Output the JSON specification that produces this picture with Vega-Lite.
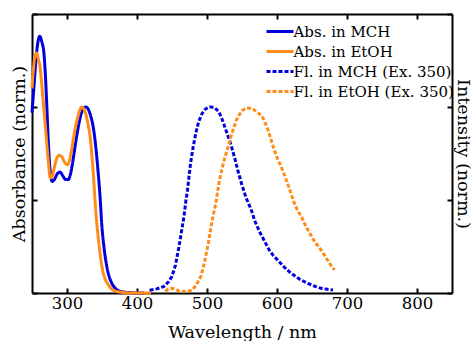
{
  "$schema": "https://vega.github.io/schema/vega-lite/v6.json",
  "width": 420,
  "height": 279,
  "autosize": {"type": "none"},
  "padding": {"left": 32, "top": 14, "right": 21, "bottom": 48},
  "background": "white",
  "config": {
    "font": "DejaVu Serif",
    "view": {"stroke": null},
    "axis": {
      "domainColor": "black", "domainWidth": 2,
      "tickColor": "black", "tickWidth": 2, "tickSize": -5,
      "labelFont": "DejaVu Serif", "labelFontSize": 16.5, "labelColor": "black",
      "titleFont": "DejaVu Serif", "titleFontSize": 17.5, "titleFontWeight": "normal", "titleColor": "black",
      "grid": false
    },
    "legend": {
      "labelFont": "DejaVu Serif"
    }
  },
  "datasets": {
    "abs": [
      {"w": 250, "v": 0.97, "s": "Abs. in MCH"}, {"w": 253, "v": 1.12, "s": "Abs. in MCH"}, {"w": 256, "v": 1.27, "s": "Abs. in MCH"},
      {"w": 259, "v": 1.36, "s": "Abs. in MCH"}, {"w": 261, "v": 1.38, "s": "Abs. in MCH"}, {"w": 264, "v": 1.35, "s": "Abs. in MCH"},
      {"w": 267, "v": 1.29, "s": "Abs. in MCH"}, {"w": 269, "v": 1.18, "s": "Abs. in MCH"}, {"w": 271, "v": 1.02, "s": "Abs. in MCH"},
      {"w": 273, "v": 0.84, "s": "Abs. in MCH"}, {"w": 275, "v": 0.7, "s": "Abs. in MCH"}, {"w": 277, "v": 0.62, "s": "Abs. in MCH"},
      {"w": 279, "v": 0.6, "s": "Abs. in MCH"}, {"w": 282, "v": 0.61, "s": "Abs. in MCH"}, {"w": 286, "v": 0.64, "s": "Abs. in MCH"},
      {"w": 290, "v": 0.65, "s": "Abs. in MCH"}, {"w": 294, "v": 0.63, "s": "Abs. in MCH"}, {"w": 298, "v": 0.61, "s": "Abs. in MCH"},
      {"w": 302, "v": 0.61, "s": "Abs. in MCH"}, {"w": 305, "v": 0.64, "s": "Abs. in MCH"}, {"w": 308, "v": 0.7, "s": "Abs. in MCH"},
      {"w": 312, "v": 0.8, "s": "Abs. in MCH"}, {"w": 316, "v": 0.89, "s": "Abs. in MCH"}, {"w": 320, "v": 0.96, "s": "Abs. in MCH"},
      {"w": 324, "v": 0.995, "s": "Abs. in MCH"}, {"w": 327, "v": 1.0, "s": "Abs. in MCH"}, {"w": 330, "v": 0.99, "s": "Abs. in MCH"},
      {"w": 334, "v": 0.95, "s": "Abs. in MCH"}, {"w": 338, "v": 0.88, "s": "Abs. in MCH"}, {"w": 341, "v": 0.79, "s": "Abs. in MCH"},
      {"w": 344, "v": 0.67, "s": "Abs. in MCH"}, {"w": 347, "v": 0.53, "s": "Abs. in MCH"}, {"w": 350, "v": 0.35, "s": "Abs. in MCH"},
      {"w": 353, "v": 0.24, "s": "Abs. in MCH"}, {"w": 357, "v": 0.14, "s": "Abs. in MCH"}, {"w": 361, "v": 0.08, "s": "Abs. in MCH"},
      {"w": 365, "v": 0.045, "s": "Abs. in MCH"}, {"w": 369, "v": 0.025, "s": "Abs. in MCH"}, {"w": 374, "v": 0.012, "s": "Abs. in MCH"},
      {"w": 381, "v": 0.005, "s": "Abs. in MCH"}, {"w": 390, "v": 0.002, "s": "Abs. in MCH"}, {"w": 400, "v": 0.0, "s": "Abs. in MCH"},
      {"w": 410, "v": 0.0, "s": "Abs. in MCH"},
      {"w": 250, "v": 1.1, "s": "Abs. in EtOH"}, {"w": 252, "v": 1.2, "s": "Abs. in EtOH"}, {"w": 254, "v": 1.27, "s": "Abs. in EtOH"},
      {"w": 256.5, "v": 1.29, "s": "Abs. in EtOH"}, {"w": 259, "v": 1.26, "s": "Abs. in EtOH"}, {"w": 262, "v": 1.2, "s": "Abs. in EtOH"},
      {"w": 264, "v": 1.12, "s": "Abs. in EtOH"}, {"w": 266, "v": 1.03, "s": "Abs. in EtOH"}, {"w": 268.5, "v": 0.92, "s": "Abs. in EtOH"},
      {"w": 271, "v": 0.81, "s": "Abs. in EtOH"}, {"w": 273.5, "v": 0.7, "s": "Abs. in EtOH"}, {"w": 276, "v": 0.62, "s": "Abs. in EtOH"},
      {"w": 278, "v": 0.62, "s": "Abs. in EtOH"}, {"w": 281, "v": 0.66, "s": "Abs. in EtOH"}, {"w": 285, "v": 0.72, "s": "Abs. in EtOH"},
      {"w": 289, "v": 0.74, "s": "Abs. in EtOH"}, {"w": 293, "v": 0.73, "s": "Abs. in EtOH"}, {"w": 297, "v": 0.7, "s": "Abs. in EtOH"},
      {"w": 301, "v": 0.69, "s": "Abs. in EtOH"}, {"w": 304, "v": 0.72, "s": "Abs. in EtOH"}, {"w": 307, "v": 0.78, "s": "Abs. in EtOH"},
      {"w": 311, "v": 0.87, "s": "Abs. in EtOH"}, {"w": 315, "v": 0.94, "s": "Abs. in EtOH"}, {"w": 318, "v": 0.98, "s": "Abs. in EtOH"},
      {"w": 321, "v": 1.0, "s": "Abs. in EtOH"}, {"w": 324, "v": 0.99, "s": "Abs. in EtOH"}, {"w": 327, "v": 0.96, "s": "Abs. in EtOH"},
      {"w": 330, "v": 0.91, "s": "Abs. in EtOH"}, {"w": 333, "v": 0.84, "s": "Abs. in EtOH"}, {"w": 336, "v": 0.72, "s": "Abs. in EtOH"},
      {"w": 338, "v": 0.62, "s": "Abs. in EtOH"}, {"w": 340, "v": 0.5, "s": "Abs. in EtOH"}, {"w": 342, "v": 0.4, "s": "Abs. in EtOH"},
      {"w": 344, "v": 0.32, "s": "Abs. in EtOH"}, {"w": 347, "v": 0.22, "s": "Abs. in EtOH"}, {"w": 350, "v": 0.14, "s": "Abs. in EtOH"},
      {"w": 354, "v": 0.08, "s": "Abs. in EtOH"}, {"w": 359, "v": 0.045, "s": "Abs. in EtOH"}, {"w": 364, "v": 0.02, "s": "Abs. in EtOH"},
      {"w": 370, "v": 0.01, "s": "Abs. in EtOH"}, {"w": 380, "v": 0.003, "s": "Abs. in EtOH"}, {"w": 395, "v": 0.0, "s": "Abs. in EtOH"},
      {"w": 420, "v": 0.0, "s": "Abs. in EtOH"}
    ],
    "fl": [
      {"w": 418, "v": 0.015, "s": "Fl. in MCH (Ex. 350)"}, {"w": 428, "v": 0.022, "s": "Fl. in MCH (Ex. 350)"}, {"w": 438, "v": 0.034, "s": "Fl. in MCH (Ex. 350)"},
      {"w": 445, "v": 0.06, "s": "Fl. in MCH (Ex. 350)"}, {"w": 450, "v": 0.09, "s": "Fl. in MCH (Ex. 350)"}, {"w": 455, "v": 0.15, "s": "Fl. in MCH (Ex. 350)"},
      {"w": 460, "v": 0.25, "s": "Fl. in MCH (Ex. 350)"}, {"w": 464, "v": 0.34, "s": "Fl. in MCH (Ex. 350)"}, {"w": 467, "v": 0.41, "s": "Fl. in MCH (Ex. 350)"},
      {"w": 470, "v": 0.5, "s": "Fl. in MCH (Ex. 350)"}, {"w": 472, "v": 0.55, "s": "Fl. in MCH (Ex. 350)"}, {"w": 476.6, "v": 0.7, "s": "Fl. in MCH (Ex. 350)"},
      {"w": 480, "v": 0.78, "s": "Fl. in MCH (Ex. 350)"}, {"w": 484, "v": 0.86, "s": "Fl. in MCH (Ex. 350)"}, {"w": 488, "v": 0.92, "s": "Fl. in MCH (Ex. 350)"},
      {"w": 493, "v": 0.965, "s": "Fl. in MCH (Ex. 350)"}, {"w": 498, "v": 0.99, "s": "Fl. in MCH (Ex. 350)"}, {"w": 504, "v": 1.0, "s": "Fl. in MCH (Ex. 350)"},
      {"w": 510, "v": 0.998, "s": "Fl. in MCH (Ex. 350)"}, {"w": 517, "v": 0.975, "s": "Fl. in MCH (Ex. 350)"}, {"w": 522, "v": 0.93, "s": "Fl. in MCH (Ex. 350)"},
      {"w": 527, "v": 0.876, "s": "Fl. in MCH (Ex. 350)"}, {"w": 534, "v": 0.8, "s": "Fl. in MCH (Ex. 350)"}, {"w": 540, "v": 0.72, "s": "Fl. in MCH (Ex. 350)"},
      {"w": 544, "v": 0.66, "s": "Fl. in MCH (Ex. 350)"}, {"w": 550, "v": 0.58, "s": "Fl. in MCH (Ex. 350)"}, {"w": 556, "v": 0.51, "s": "Fl. in MCH (Ex. 350)"},
      {"w": 563, "v": 0.45, "s": "Fl. in MCH (Ex. 350)"}, {"w": 568, "v": 0.39, "s": "Fl. in MCH (Ex. 350)"}, {"w": 575, "v": 0.33, "s": "Fl. in MCH (Ex. 350)"},
      {"w": 582, "v": 0.28, "s": "Fl. in MCH (Ex. 350)"}, {"w": 589, "v": 0.23, "s": "Fl. in MCH (Ex. 350)"}, {"w": 595, "v": 0.2, "s": "Fl. in MCH (Ex. 350)"},
      {"w": 601, "v": 0.177, "s": "Fl. in MCH (Ex. 350)"}, {"w": 610, "v": 0.14, "s": "Fl. in MCH (Ex. 350)"}, {"w": 620, "v": 0.106, "s": "Fl. in MCH (Ex. 350)"},
      {"w": 632, "v": 0.075, "s": "Fl. in MCH (Ex. 350)"}, {"w": 644, "v": 0.052, "s": "Fl. in MCH (Ex. 350)"}, {"w": 655, "v": 0.035, "s": "Fl. in MCH (Ex. 350)"},
      {"w": 663, "v": 0.025, "s": "Fl. in MCH (Ex. 350)"}, {"w": 672, "v": 0.02, "s": "Fl. in MCH (Ex. 350)"}, {"w": 680, "v": 0.016, "s": "Fl. in MCH (Ex. 350)"},
      {"w": 440, "v": 0.01, "s": "Fl. in EtOH (Ex. 350)"}, {"w": 445, "v": 0.02, "s": "Fl. in EtOH (Ex. 350)"}, {"w": 450, "v": 0.025, "s": "Fl. in EtOH (Ex. 350)"},
      {"w": 455, "v": 0.02, "s": "Fl. in EtOH (Ex. 350)"}, {"w": 460, "v": 0.01, "s": "Fl. in EtOH (Ex. 350)"}, {"w": 465, "v": 0.008, "s": "Fl. in EtOH (Ex. 350)"},
      {"w": 470, "v": 0.01, "s": "Fl. in EtOH (Ex. 350)"}, {"w": 475, "v": 0.012, "s": "Fl. in EtOH (Ex. 350)"}, {"w": 479, "v": 0.016, "s": "Fl. in EtOH (Ex. 350)"},
      {"w": 485, "v": 0.045, "s": "Fl. in EtOH (Ex. 350)"}, {"w": 491, "v": 0.088, "s": "Fl. in EtOH (Ex. 350)"}, {"w": 495, "v": 0.14, "s": "Fl. in EtOH (Ex. 350)"},
      {"w": 498, "v": 0.195, "s": "Fl. in EtOH (Ex. 350)"}, {"w": 502, "v": 0.27, "s": "Fl. in EtOH (Ex. 350)"}, {"w": 505, "v": 0.34, "s": "Fl. in EtOH (Ex. 350)"},
      {"w": 509, "v": 0.42, "s": "Fl. in EtOH (Ex. 350)"}, {"w": 512.5, "v": 0.48, "s": "Fl. in EtOH (Ex. 350)"}, {"w": 517, "v": 0.59, "s": "Fl. in EtOH (Ex. 350)"},
      {"w": 521, "v": 0.66, "s": "Fl. in EtOH (Ex. 350)"}, {"w": 524.6, "v": 0.715, "s": "Fl. in EtOH (Ex. 350)"}, {"w": 528, "v": 0.76, "s": "Fl. in EtOH (Ex. 350)"},
      {"w": 531.6, "v": 0.805, "s": "Fl. in EtOH (Ex. 350)"}, {"w": 535, "v": 0.85, "s": "Fl. in EtOH (Ex. 350)"}, {"w": 538.8, "v": 0.894, "s": "Fl. in EtOH (Ex. 350)"},
      {"w": 542, "v": 0.93, "s": "Fl. in EtOH (Ex. 350)"}, {"w": 546, "v": 0.957, "s": "Fl. in EtOH (Ex. 350)"}, {"w": 550, "v": 0.98, "s": "Fl. in EtOH (Ex. 350)"},
      {"w": 555, "v": 0.993, "s": "Fl. in EtOH (Ex. 350)"}, {"w": 560, "v": 0.995, "s": "Fl. in EtOH (Ex. 350)"}, {"w": 565, "v": 0.99, "s": "Fl. in EtOH (Ex. 350)"},
      {"w": 570, "v": 0.978, "s": "Fl. in EtOH (Ex. 350)"}, {"w": 575, "v": 0.962, "s": "Fl. in EtOH (Ex. 350)"}, {"w": 580, "v": 0.94, "s": "Fl. in EtOH (Ex. 350)"},
      {"w": 586, "v": 0.89, "s": "Fl. in EtOH (Ex. 350)"}, {"w": 591, "v": 0.83, "s": "Fl. in EtOH (Ex. 350)"}, {"w": 596, "v": 0.77, "s": "Fl. in EtOH (Ex. 350)"},
      {"w": 601, "v": 0.72, "s": "Fl. in EtOH (Ex. 350)"}, {"w": 606, "v": 0.68, "s": "Fl. in EtOH (Ex. 350)"}, {"w": 610, "v": 0.64, "s": "Fl. in EtOH (Ex. 350)"},
      {"w": 615, "v": 0.59, "s": "Fl. in EtOH (Ex. 350)"}, {"w": 620, "v": 0.535, "s": "Fl. in EtOH (Ex. 350)"}, {"w": 625, "v": 0.48, "s": "Fl. in EtOH (Ex. 350)"},
      {"w": 630, "v": 0.44, "s": "Fl. in EtOH (Ex. 350)"}, {"w": 635, "v": 0.41, "s": "Fl. in EtOH (Ex. 350)"}, {"w": 641, "v": 0.36, "s": "Fl. in EtOH (Ex. 350)"},
      {"w": 647, "v": 0.32, "s": "Fl. in EtOH (Ex. 350)"}, {"w": 653, "v": 0.28, "s": "Fl. in EtOH (Ex. 350)"}, {"w": 659, "v": 0.25, "s": "Fl. in EtOH (Ex. 350)"},
      {"w": 665, "v": 0.22, "s": "Fl. in EtOH (Ex. 350)"}, {"w": 670, "v": 0.19, "s": "Fl. in EtOH (Ex. 350)"}, {"w": 676, "v": 0.155, "s": "Fl. in EtOH (Ex. 350)"},
      {"w": 682, "v": 0.124, "s": "Fl. in EtOH (Ex. 350)"}
    ]
  },
  "layer": [
    {
      "data": {"name": "abs"},
      "mark": {"type": "line", "strokeWidth": 3, "interpolate": "monotone"},
      "encoding": {
        "x": {"field": "w", "type": "quantitative",
          "scale": {"domain": [250, 850], "nice": false, "zero": false},
          "axis": {"orient": "bottom", "values": [300, 400, 500, 600, 700, 800], "title": "Wavelength / nm", "labelPadding": 7, "titlePadding": 12, "labelFont": "DejaVu Serif", "titleFont": "DejaVu Serif"}},
        "y": {"field": "v", "type": "quantitative",
          "scale": {"domain": [0, 1.5], "nice": false},
          "axis": {"orient": "left", "values": [0, 0.5, 1, 1.5], "labels": false, "title": "Absorbance (norm.)", "titlePadding": 3, "titleFont": "DejaVu Serif"}},
        "color": {"field": "s", "type": "nominal",
          "scale": {"domain": ["Abs. in MCH", "Abs. in EtOH", "Fl. in MCH (Ex. 350)", "Fl. in EtOH (Ex. 350)"], "range": ["#0000dd", "#ff8c1a", "#0000dd", "#ff8c1a"]},
          "legend": {"orient": "none", "legendX": 237.5, "legendY": 7, "title": null, "padding": 0,
            "symbolType": "M-1.5,0H1.5", "symbolSize": 324, "symbolStrokeWidth": 3,
            "labelFont": "DejaVu Serif", "labelFontSize": 15, "labelOffset": 3, "rowPadding": 1, "labelLimit": 300,
            "encoding": {"labels": {"update": {"fill": {"signal": "scale('color', datum.value)"}}}}}},
        "strokeDash": {"field": "s", "type": "nominal",
          "scale": {"domain": ["Abs. in MCH", "Abs. in EtOH", "Fl. in MCH (Ex. 350)", "Fl. in EtOH (Ex. 350)"], "range": [[1, 0], [1, 0], [4, 2], [4, 2]]},
          "legend": {"orient": "none", "legendX": 237.5, "legendY": 7, "title": null, "padding": 0,
            "symbolType": "M-1.5,0H1.5", "symbolSize": 324, "symbolStrokeWidth": 3,
            "labelFont": "DejaVu Serif", "labelFontSize": 15, "labelOffset": 3, "rowPadding": 1, "labelLimit": 300,
            "encoding": {"labels": {"update": {"fill": {"signal": "scale('color', datum.value)"}}}}}}
      }
    },
    {
      "data": {"name": "fl"},
      "mark": {"type": "line", "strokeWidth": 3},
      "encoding": {
        "x": {"field": "w", "type": "quantitative",
          "scale": {"domain": [250, 850], "nice": false, "zero": false},
          "axis": {"orient": "top", "values": [300, 400, 500, 600, 700, 800], "labels": false, "title": null}},
        "y": {"field": "v", "type": "quantitative",
          "scale": {"domain": [0, 1.5], "nice": false},
          "axis": {"orient": "right", "values": [0, 0.5, 1, 1.5], "labels": false, "title": "Intensity (norm.)", "titlePadding": 0, "titleFont": "DejaVu Serif"}},
        "color": {"field": "s", "type": "nominal"},
        "strokeDash": {"field": "s", "type": "nominal"}
      }
    }
  ],
  "resolve": {"axis": {"x": "independent", "y": "independent"}}
}
